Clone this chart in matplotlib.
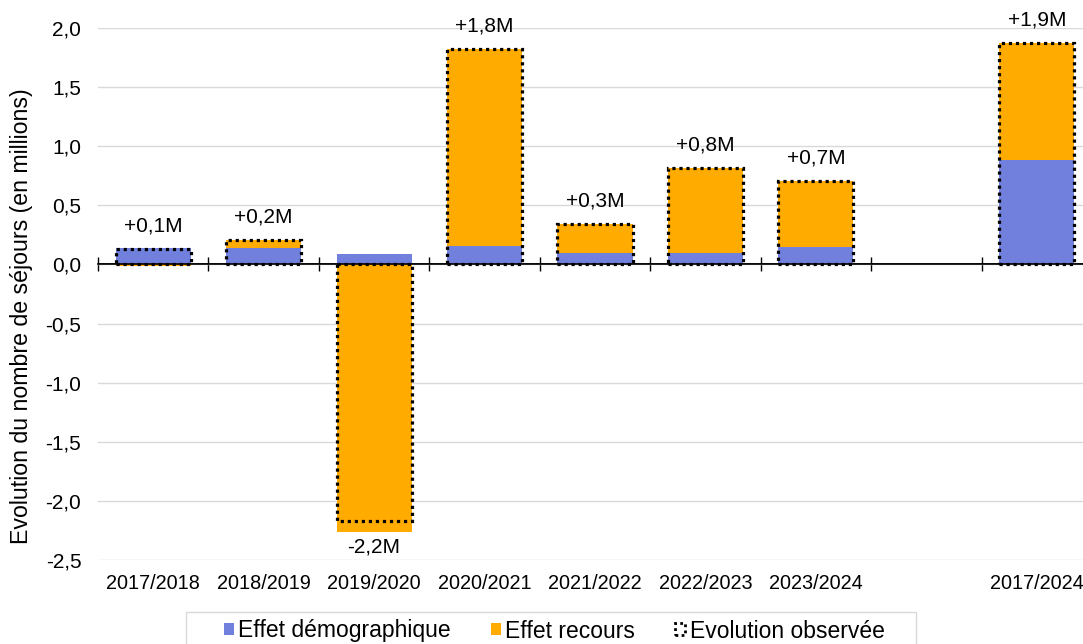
import numpy as np
import matplotlib.pyplot as plt
from matplotlib.patches import Patch, Rectangle

plt.rcParams['font.family'] = ['Liberation Sans', 'DejaVu Sans']

### Data (millions de séjours)
periodes = ['2017/2018', '2018/2019', '2019/2020', '2020/2021',
            '2021/2022', '2022/2023', '2023/2024', '2017/2024']
positions = [0, 1, 2, 3, 4, 5, 6, 8]
effet_demo = [0.14, 0.14, 0.09, 0.16, 0.10, 0.10, 0.15, 0.88]
effet_recours = [-0.01, 0.07, -2.26, 1.66, 0.24, 0.72, 0.56, 0.99]
evolution = [0.13, 0.21, -2.17, 1.82, 0.34, 0.82, 0.71, 1.87]

BLUE = '#7080DC'
ORANGE = '#FFAB00'
GRID = '#D9D9D9'
FS = 14.3

W, H = 1083, 644
fig = plt.figure(figsize=(W / 100, H / 100), dpi=100)
ax = fig.add_axes([98 / W, 1 - 560 / H, (1092 - 98) / W, 532 / H])

x = np.array(positions)
demo = np.array(effet_demo)
recours = np.array(effet_recours)
total = np.array(evolution)
width = 0.68

### Stacked bars: positive parts stack upward, negative parts go down from 0
ax.bar(x, demo, width, color=BLUE, zorder=2)
bottom = np.where(recours >= 0, np.maximum(demo, 0), np.minimum(demo, 0))
ax.bar(x, recours, width, bottom=bottom, color=ORANGE, zorder=2)

### Observed evolution as a dotted outline
ax.bar(x, total, width, fill=False, edgecolor='black',
       linestyle=(0, (1, 1.2)), linewidth=2.3, zorder=4)

for xi, ti in zip(x, total):
    txt = f"{ti:+.1f}M".replace('.', ',')
    off = 23 if ti >= 0 else -26
    ax.annotate(txt, (xi, ti), xytext=(0, off), textcoords='offset pixels',
                ha='center', va='center', fontsize=15, annotation_clip=False)

### Axes
ymin, ymax = -2.5, 2.0
ax.set_ylim(ymin, ymax)
ax.set_xlim(-0.5, 8.5)
yt = np.arange(ymin, ymax + 0.01, 0.5)
ax.set_yticks(yt, [f"{v:.1f}".replace('.', ',') for v in yt])
ax.set_xticks(x, periodes)
ax.tick_params(axis='y', length=0, pad=12, labelsize=15)
ax.tick_params(axis='x', length=0, pad=10, labelsize=FS)
ax.yaxis.grid(True, color=GRID, linewidth=1)
ax.set_axisbelow(True)
for s in ax.spines.values():
    s.set_visible(False)

# zero line with category separators
ax.axhline(0, color='black', linewidth=1.2, zorder=3)
zero = ax.secondary_xaxis((0 - ymin) / (ymax - ymin))
zero.set_xticks(np.arange(-0.5, 9, 1), labels=[])
zero.tick_params(direction='inout', length=10, width=1, color='black',
                 labeltop=False, labelbottom=False)
for s in zero.spines.values():
    s.set_color('black')
    s.set_linewidth(1.2)

fig.text(22 / W, 1 - 316 / H, 'Evolution du nombre de séjours (en millions)',
         rotation=90, ha='center', va='center', fontsize=16.7)

### Legend
handles = [
    Patch(facecolor=BLUE, edgecolor='none', label='Effet démographique'),
    Patch(facecolor=ORANGE, edgecolor='none', label='Effet recours'),
    Patch(facecolor='none', edgecolor='black', linestyle=(0, (1, 1.2)),
          linewidth=2, label='Evolution observée'),
]
fig.legend(handles=handles, loc='center', bbox_to_anchor=(554 / W, 1 - 631 / H),
           ncol=3, frameon=False, fontsize=16.5, handlelength=0.45,
           handleheight=0.45, handletextpad=0.18, columnspacing=1.75)
fig.add_artist(Rectangle((186 / W, -0.05), (916 - 186) / W, 0.05 + (644 - 612) / H,
                         transform=fig.transFigure, fill=False,
                         edgecolor=GRID, linewidth=1))

fig.savefig('out.png', dpi=100)
